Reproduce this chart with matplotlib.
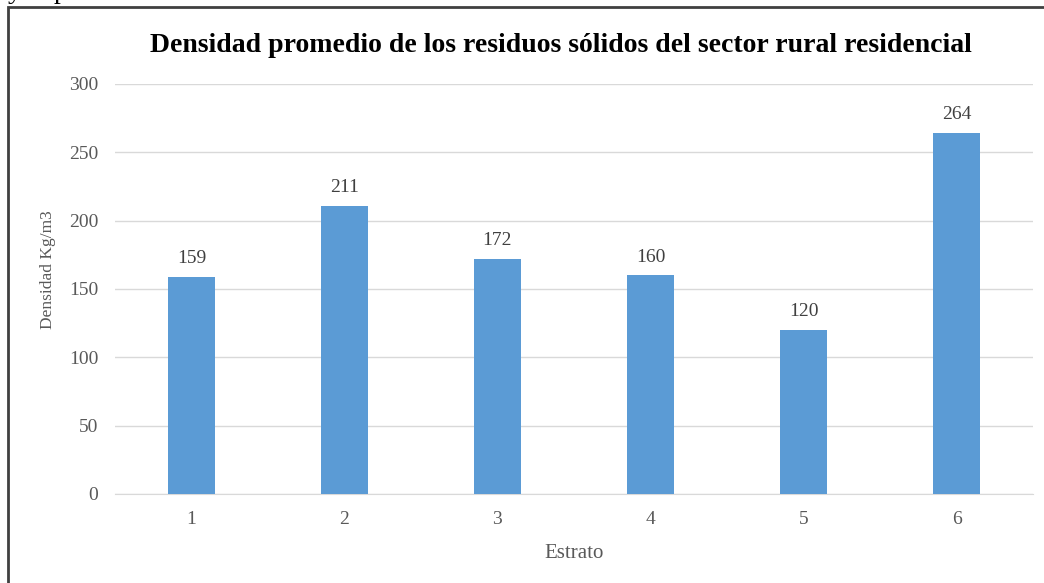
import matplotlib
matplotlib.use("Agg")
from matplotlib import pyplot as plt
from matplotlib.patches import Rectangle

estratos = ["1", "2", "3", "4", "5", "6"]
densidad = [159, 211, 172, 160, 120, 264]
yticks = [0, 50, 100, 150, 200, 250, 300]

plt.rcParams['font.family'] = ['Liberation Serif', 'DejaVu Serif']

fig = plt.figure(figsize=(10.44, 5.83), dpi=100)
ax = fig.add_axes([0.110, 0.1527, 0.8795, 0.7033])

x = list(range(1, len(estratos) + 1))
bars = ax.bar(x, densidad, width=0.31, color='#5B9BD5', zorder=3)
for b, v in zip(bars, densidad):
    ax.annotate(str(v), (b.get_x() + b.get_width() / 2, v), xytext=(0, 7),
                textcoords='offset points', ha='center', va='bottom',
                fontsize=14, color='#404040')

ax.set_xlim(0.5, 6.5)
ax.set_ylim(0, 300)
ax.set_xticks(x)
ax.set_xticklabels(estratos)
ax.set_yticks(yticks)
ax.tick_params(length=0, labelsize=14, labelcolor='#595959', pad=12)
ax.tick_params(axis='y', pad=12)
ax.grid(axis='y', color='#D9D9D9', linewidth=1, zorder=0)
for s in ['top', 'right', 'left']:
    ax.spines[s].set_visible(False)
ax.spines['bottom'].set_color('#D9D9D9')

ax.set_xlabel("Estrato", fontsize=15, color='#595959', labelpad=12)
ax.set_ylabel("Densidad Kg/m3", fontsize=12.5, color='#595959')
ax.yaxis.set_label_coords(-0.064, 0.546)
fig.text(0.537, 0.922, "Densidad promedio de los residuos sólidos del sector rural residencial",
         ha='center', va='center', fontsize=20, fontweight='bold', color='black')

# frame of the chart box and a clipped line of text above it
fig.patches.append(Rectangle((8 / 1044, -0.1), 1.2, 1 - 7 / 583 + 0.1,
                             transform=fig.transFigure, fill=False,
                             edgecolor='#404040', linewidth=2))
fig.text(8 / 1044, 1.014, "y", ha='left', va='center', fontsize=20, color='black')
fig.text(54 / 1044, 1.014, "p", ha='left', va='center', fontsize=20, color='black')

fig.savefig("out.png", dpi=100)
